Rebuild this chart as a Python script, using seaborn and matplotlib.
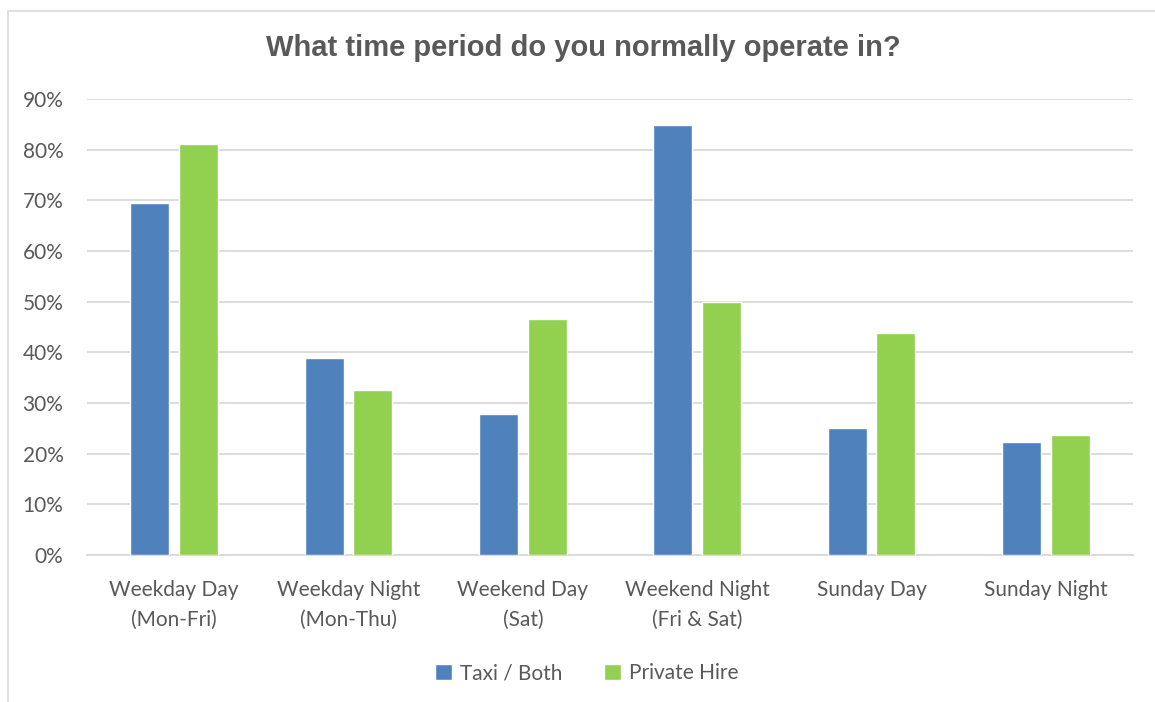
import pandas as pd
import matplotlib.pyplot as plt
import seaborn as sns
from matplotlib.patches import Rectangle
from matplotlib.ticker import PercentFormatter

# -------------------------------
# 1. DATA
# -------------------------------
periods = ["Weekday Day\n(Mon-Fri)", "Weekday Night\n(Mon-Thu)", "Weekend Day\n(Sat)",
           "Weekend Night\n(Fri & Sat)", "Sunday Day", "Sunday Night"]
taxi_both = [69.5, 38.9, 27.8, 84.8, 25.1, 22.3]
private_hire = [81.2, 32.6, 46.6, 50.0, 43.8, 23.7]
series_names = ["Taxi / Both", "Private Hire"]
ytick_values = [0, 10, 20, 30, 40, 50, 60, 70, 80, 90]

df = pd.DataFrame({
    "period": periods * 2,
    "share": taxi_both + private_hire,
    "licence": [series_names[0]] * len(periods) + [series_names[1]] * len(periods),
})

# -------------------------------
# 2. STYLE
# -------------------------------
sns.set_style("white")
plt.rcParams['font.family'] = ['Lato', 'DejaVu Sans']
text_grey = "#595959"
grid_grey = "#D9D9D9"
palette = {"Taxi / Both": "#4F81BD", "Private Hire": "#92D050"}

fig = plt.figure(figsize=(11.55, 7.02), dpi=100)
ax = fig.add_axes([87 / 1155, 1 - 555 / 702, (1133 - 87) / 1155, (555 - 99) / 702])

# chart frame
fig.patches.append(Rectangle((8 / 1155, -0.01), 1.02, 1 - 11 / 702 + 0.01, transform=fig.transFigure,
                             fill=False, edgecolor=grid_grey, linewidth=1.2, zorder=0))

# -------------------------------
# 3. BARS
# -------------------------------
sns.barplot(data=df, x="period", y="share", hue="licence", hue_order=series_names,
            palette=palette, width=0.56, gap=0.2, saturation=1, ax=ax, zorder=3)

ax.set_ylim(0, 90)
ax.set_xlim(-0.5, len(periods) - 0.5)
ax.set_yticks(ytick_values)
ax.yaxis.set_major_formatter(PercentFormatter(decimals=0))
ax.yaxis.grid(True, color=grid_grey, linewidth=1.3, zorder=0)
ax.set_axisbelow(True)
for side in ["top", "right", "left"]:
    ax.spines[side].set_visible(False)
ax.spines["bottom"].set_color(grid_grey)
ax.spines["bottom"].set_linewidth(1.3)
ax.tick_params(axis="both", length=0, labelsize=15, labelcolor=text_grey)
ax.tick_params(axis="y", pad=17)
ax.tick_params(axis="x", pad=18)
for lbl in ax.get_xticklabels():
    lbl.set_linespacing(1.6)
ax.set_xlabel("")
ax.set_ylabel("")

fig.text(0.505, 1 - 48 / 702, "What time period do you normally operate in?", ha="center", va="center",
         fontsize=21, fontweight="bold", color=text_grey, family="Liberation Sans")

ax.legend(loc="lower center", bbox_to_anchor=(0.508, 0.0), bbox_transform=fig.transFigure,
          ncol=2, frameon=False, fontsize=15, labelcolor=text_grey,
          handlelength=0.8, handleheight=0.8, handletextpad=0.4, columnspacing=2.0)

plt.savefig("out.png", dpi=100)
